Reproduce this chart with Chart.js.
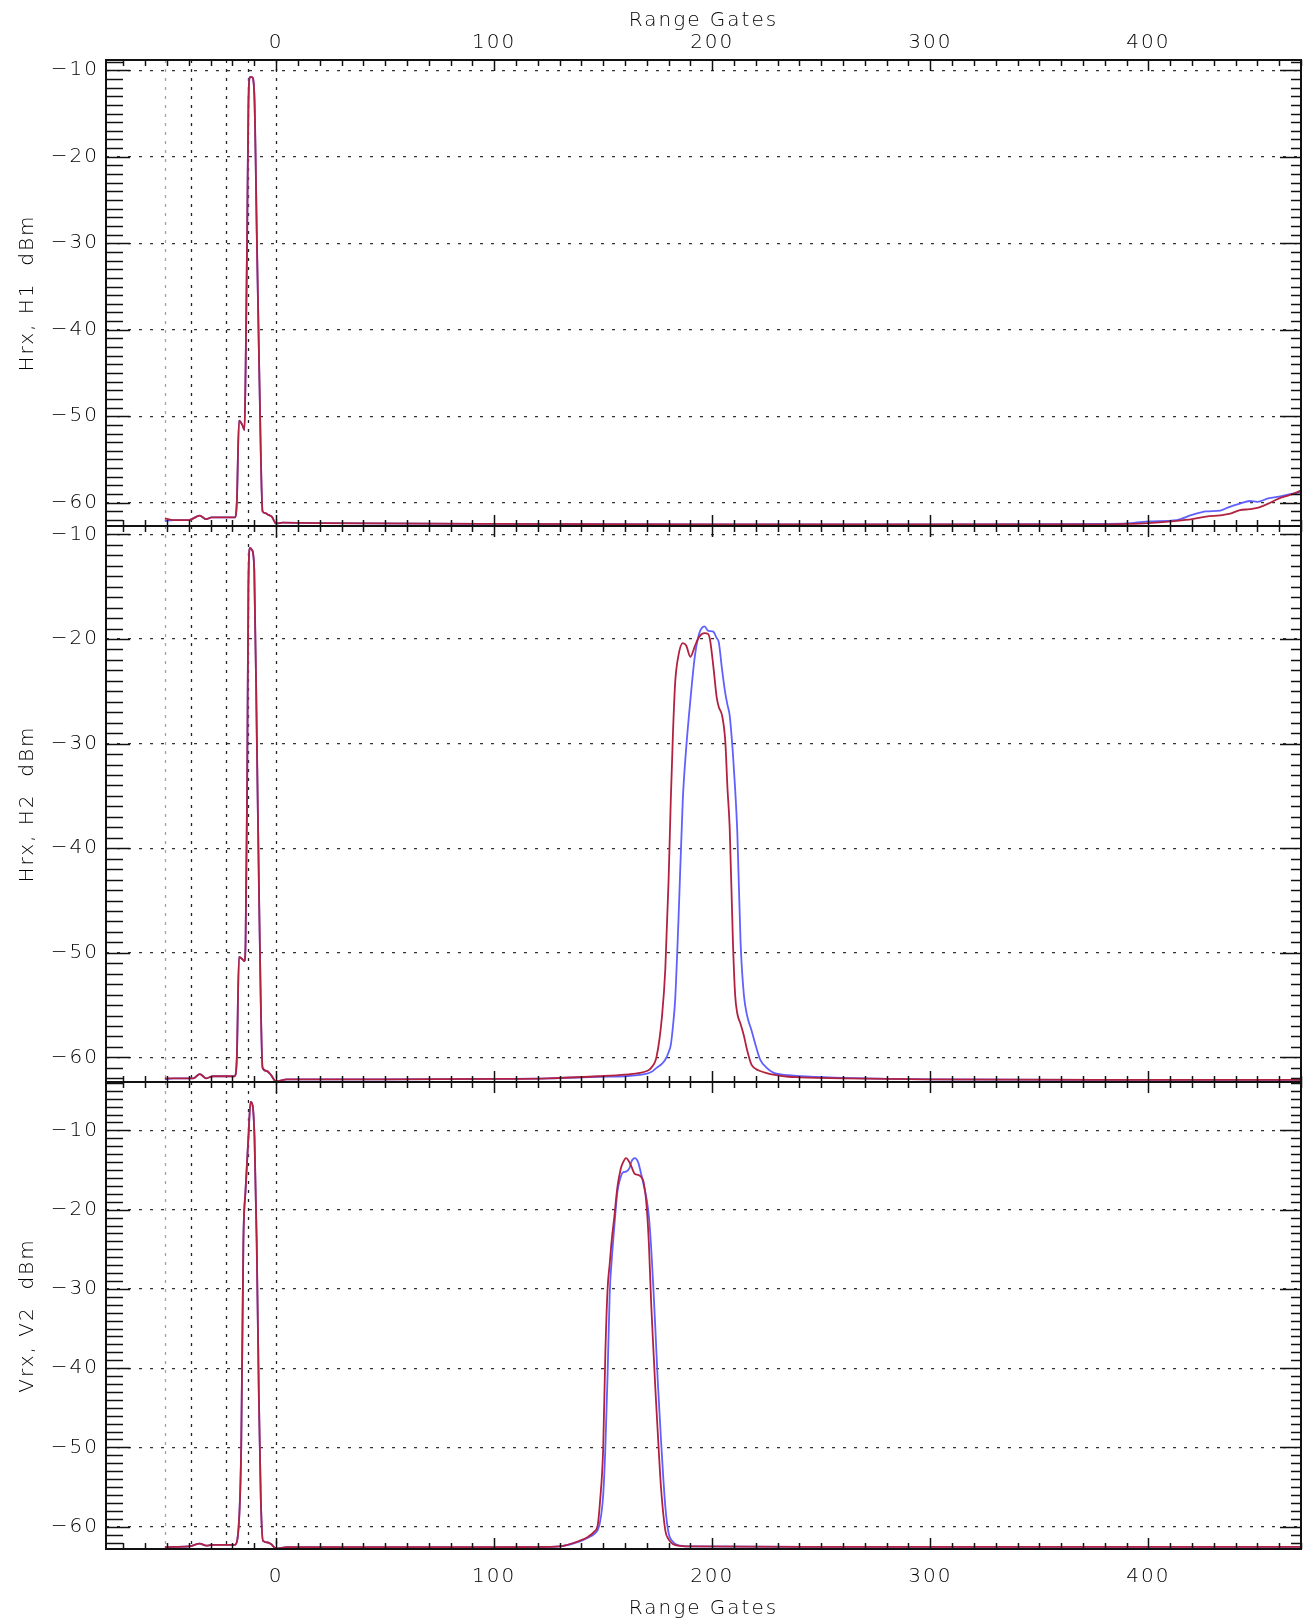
<!DOCTYPE html>
<html>
<head>
<meta charset="utf-8">
<title>Range Gates</title>
<script src="https://cdn.jsdelivr.net/npm/chart.js@4.4.1/dist/chart.umd.min.js"></script>
<style>
  html, body { margin: 0; padding: 0; background: #fff; }
  #wrap { position: relative; width: 1311px; height: 1622px; }
  canvas { position: absolute; left: 0; }
</style>
</head>
<body>
<div id="wrap">
  <canvas id="panel1" width="1311" height="536" style="top:0px"></canvas>
  <canvas id="panel2" width="1311" height="576" style="top:516px"></canvas>
  <canvas id="panel3" width="1311" height="550" style="top:1072px"></canvas>
</div>
<script>
// tick labels
const gateTicks = [0, 100, 200, 300, 400];
const dbTicks = [-60, -50, -40, -30, -20, -10];
// dotted vertical marker gates
const markerGates = [-51, -39, -23, -13, 0];

// panel 1 : Hrx, H1
const p1Gates = [-51, -47, -40, -35, -32, -29.5, -19, -18, -17, -15.5, -14.5, -14, -13.3, -12.7, -12, -11, -10, -8.8,
  -7.7, -6.2, -5, -3.5, -2, 0, 3, 20, 100, 200, 300, 380, 390, 400, 413, 420, 426.5, 433, 437, 442, 446.5, 450, 455, 460, 465, 470];
const p1Red = [-61.8, -62.0, -62.0, -61.5, -61.9, -61.7, -61.7, -59.9, -50.5, -51.0, -51.6, -45, -29.7, -14.2, -10.8, -10.8, -12.7, -29.7,
  -45, -61.0, -61.2, -61.4, -61.6, -62.4, -62.3, -62.35, -62.45, -62.5, -62.5, -62.5, -62.45, -62.35, -62.1, -61.9, -61.6, -61.45, -61.3, -60.85, -60.75, -60.6, -60.1, -59.5, -59.1, -58.6];
const p1Blue = [-62.1, -62.0, -62.0, -61.5, -61.9, -61.7, -61.7, -59.9, -50.5, -51.0, -51.6, -45, -29.7, -14.2, -10.8, -10.8, -12.7, -29.7,
  -45, -61.0, -61.2, -61.4, -61.6, -62.4, -62.3, -62.35, -62.45, -62.5, -62.5, -62.45, -62.4, -62.15, -62.0, -61.4, -61.0, -60.9, -60.5, -60.1, -59.8, -59.9, -59.5, -59.3, -59.0, -58.8];

// panel 2 : Hrx, H2
const p2Gates = [-51, -47, -38, -35, -32, -29, -19, -18, -17, -15.5, -14.5, -14, -13.3, -12.7, -12, -11, -10, -8.8,
  -7.7, -6.2, -4.3, -2.3, 0, 5, 50, 100, 125, 148, 160, 166, 170, 172, 174.5, 177, 178.5, 180,
  181, 182, 183, 184.5, 186.5, 188, 190, 192, 194, 196.5, 198, 199, 200.5, 202, 203, 204.5, 206, 207,
  208, 209.5, 210.5, 211.5, 213, 214.5, 216, 218, 220, 222, 225, 228, 235, 240, 260, 300, 400, 470];
const p2Red = [-62.0, -62.0, -62.0, -61.6, -62.0, -61.8, -61.8, -60.0, -50.4, -50.6, -50.8, -49, -35, -15, -11.3, -11.5, -13.5, -30,
  -46, -61.0, -61.3, -61.7, -62.3, -62.1, -62.1, -62.05, -62.0, -61.8, -61.65, -61.5, -61.3, -61.0, -59.9, -56.0, -51.5, -43,
  -35.4, -29.0, -24.2, -21.6, -20.4, -20.6, -21.7, -20.7, -19.8, -19.45, -19.5, -20.1, -22.6, -25.5, -26.5, -27.3, -29.8, -34.3,
  -38, -49, -54, -55.8, -56.8, -57.9, -59.3, -60.7, -61.1, -61.3, -61.5, -61.65, -61.85, -61.9, -62.0, -62.1, -62.15, -62.15];
const p2Blue = [-62.1, -62.0, -62.0, -61.6, -62.0, -61.8, -61.8, -60.0, -50.4, -50.6, -50.8, -49, -35, -15, -11.3, -11.5, -13.5, -30,
  -46, -61.0, -61.3, -61.7, -62.3, -62.1, -62.1, -62.05, -62.0, -61.85, -61.8, -61.7, -61.55, -61.4, -61.0, -60.6, -60.2, -59.5,
  -58.8, -57.0, -54.5, -47.0, -35.4, -30.6, -25.8, -21.7, -19.5, -18.8, -19.2, -19.25, -19.3, -19.9, -20.3, -22.9, -25.2, -26.3,
  -27.3, -31, -34.3, -38.5, -49, -54, -56.0, -57.4, -58.9, -60.2, -61.0, -61.45, -61.7, -61.8, -61.95, -62.1, -62.15, -62.15];

// panel 3 : Vrx, V2
const p3Gates = [-51, -47, -40, -35, -32, -29.5, -19, -17.7, -16, -15, -14, -12.7, -11.7, -10.8, -9.9, -8.9, -7.9, -7,
  -6, -3.8, -2.3, 0, 5, 50, 100, 125, 130, 139, 143, 146, 147.5, 148.5, 150, 151, 152, 153,
  154, 155, 156.5, 158, 159, 160.5, 162, 163, 164.5, 166, 167.5, 168.5, 170, 171, 172, 173, 174, 175,
  176.5, 178.5, 180, 182, 184, 190, 250, 470];
const p3Red = [-62.6, -62.55, -62.5, -62.15, -62.4, -62.3, -62.3, -61.5, -50.1, -24.0, -17.5, -10.9, -6.4, -6.8, -10.9, -24.0, -43.6, -56.6,
  -61.8, -62.0, -62.2, -62.75, -62.6, -62.6, -62.6, -62.55, -62.5, -61.8, -61.3, -60.6, -59.8, -57, -50.1, -38, -30.1, -26.8,
  -23.6, -21.2, -17.2, -14.9, -14.1, -13.5, -14.0, -14.6, -15.5, -15.6, -15.9, -16.5, -19.8, -24.6, -31.8, -37.5, -43, -48,
  -55, -60.5, -61.6, -62.2, -62.4, -62.5, -62.55, -62.55];
const p3Blue = [-62.6, -62.55, -62.5, -62.15, -62.4, -62.3, -62.3, -61.5, -50.1, -24.0, -17.5, -10.9, -6.4, -6.8, -10.9, -24.0, -43.6, -56.6,
  -61.8, -62.0, -62.2, -62.75, -62.6, -62.6, -62.6, -62.55, -62.5, -61.9, -61.4, -60.9, -60.4, -59.5, -56, -50, -41, -30.5,
  -26.0, -22.5, -17.8, -15.9, -15.3, -15.2, -14.8, -13.9, -13.5, -14.0, -15.6, -16.8, -18.8, -21.0, -24.8, -29.8, -35.5, -41.5,
  -49, -57.5, -60.8, -61.9, -62.3, -62.5, -62.55, -62.55];

const redColor = 'rgb(178, 34, 64)';
const blueColor = 'rgb(96, 96, 255)';
const textColor = '#000';
const tickFont = { family: 'DejaVu Sans', size: 20, weight: 300 };

function toPoints(gates, values) {
  return gates.map((g, i) => ({ x: g, y: values[i] }));
}

function line(ctx, x1, y1, x2, y2) {
  ctx.beginPath();
  ctx.moveTo(x1, y1);
  ctx.lineTo(x2, y2);
  ctx.stroke();
}

// IDL style frame: inward ticks on all sides + marker lines
const framePlugin = {
  id: 'idlFrame',
  beforeDraw(chart) {
    // wider letter spacing, closer to the vector font of the original
    chart.ctx.letterSpacing = '2px';
  },
  beforeDatasetsDraw(chart) {
    const { ctx, chartArea: a, scales: { x } } = chart;
    ctx.save();
    ctx.lineWidth = 1.3;
    ctx.setLineDash([3, 6]);
    markerGates.forEach((g, i) => {
      const px = Math.round(x.getPixelForValue(g)) + 0.5;
      ctx.strokeStyle = i === 0 ? '#a0a0b4' : '#222';
      line(ctx, px, a.top, px, a.bottom);
    });
    ctx.restore();
  },
  afterDraw(chart) {
    const { ctx, chartArea: a, scales: { x, y } } = chart;
    ctx.save();
    ctx.strokeStyle = '#111';
    ctx.lineWidth = 1.5;
    for (let g = Math.ceil(x.min / 10) * 10; g <= x.max; g += 10) {
      const px = Math.round(x.getPixelForValue(g)) + 0.5;
      const len = g % 100 === 0 ? 11 : 6;
      line(ctx, px, a.top, px, a.top + len);
      line(ctx, px, a.bottom, px, a.bottom - len);
    }
    for (let v = Math.ceil(y.min); v <= y.max; v++) {
      const py = Math.round(y.getPixelForValue(v)) + 0.5;
      const major = v % 10 === 0;
      line(ctx, a.left, py, a.left + (major ? 24 : 17), py);
      line(ctx, a.right, py, a.right - (major ? 21 : 10), py);
    }
    ctx.lineWidth = 2;
    ctx.strokeRect(a.left, a.top, a.right - a.left, a.bottom - a.top);
    ctx.restore();
  }
};

function makePanel(id, gates, red, blue, cfg) {
  const ctx = document.getElementById(id).getContext('2d');
  return new Chart(ctx, {
    type: 'line',
    data: {
      datasets: [
        { label: 'red', data: toPoints(gates, red), borderColor: redColor },
        { label: 'blue', data: toPoints(gates, blue), borderColor: blueColor }
      ]
    },
    options: {
      responsive: false,
      animation: false,
      layout: { padding: { top: cfg.padTop, bottom: cfg.padBottom, left: 0, right: 10 } },
      plugins: { legend: { display: false }, tooltip: { enabled: false } },
      elements: {
        point: { radius: 0 },
        line: { borderWidth: 1.8, cubicInterpolationMode: 'monotone', fill: false }
      },
      scales: {
        x: {
          type: 'linear',
          display: cfg.xPos !== null,
          position: cfg.xPos || 'bottom',
          min: -78,
          max: 470,
          afterBuildTicks: s => { s.ticks = gateTicks.map(v => ({ value: v })); },
          afterFit: s => {
            s.height = cfg.xHeight;
            s.paddingLeft = 0; s.paddingRight = 0;
          },
          grid: { display: false, drawTicks: false },
          border: { display: false },
          ticks: { font: tickFont, color: textColor, padding: cfg.xLabelPad, maxRotation: 0, autoSkip: false },
          title: { display: true, text: 'Range Gates', font: tickFont, color: textColor, padding: cfg.xTitlePad }
        },
        y: {
          min: cfg.yMin,
          max: cfg.yMax,
          afterBuildTicks: s => { s.ticks = dbTicks.map(v => ({ value: v })); },
          afterFit: s => {
            s.width = 106;
            s.paddingTop = 0; s.paddingBottom = 0;
          },
          grid: { color: '#333', lineWidth: 1.2, drawTicks: false },
          border: { display: false, dash: [3, 8] },
          ticks: { font: tickFont, color: textColor, padding: 7, callback: v => String(v).replace('-', '\u2212') },
          title: { display: true, text: cfg.yTitle, font: tickFont, color: textColor, padding: { top: 16 } }
        }
      }
    },
    plugins: [framePlugin]
  });
}

makePanel('panel1', p1Gates, p1Red, p1Blue, {
  padTop: 0, padBottom: 10, xPos: 'top', xHeight: 60, xLabelPad: 5, xTitlePad: { top: 9 },
  yMin: -62.69, yMax: -8.81, yTitle: 'Hrx, H1  dBm'
});
makePanel('panel2', p2Gates, p2Red, p2Blue, {
  padTop: 10, padBottom: 10, xPos: null, xHeight: 0, xLabelPad: 0, xTitlePad: 0,
  yMin: -62.35, yMax: -9.2, yTitle: 'Hrx, H2  dBm'
});
makePanel('panel3', p3Gates, p3Red, p3Blue, {
  padTop: 10, padBottom: 0, xPos: 'bottom', xHeight: 73, xLabelPad: 16, xTitlePad: { bottom: 1 },
  yMin: -62.82, yMax: -3.89, yTitle: 'Vrx, V2  dBm'
});
</script>
</body>
</html>
